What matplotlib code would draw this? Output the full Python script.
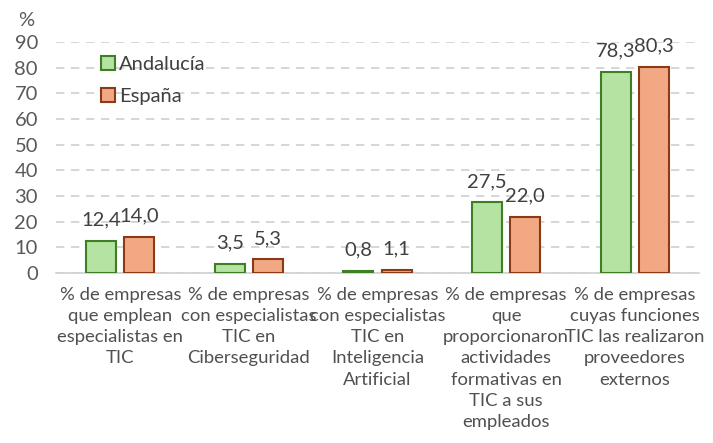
import matplotlib.pyplot as plt
import numpy as np
from matplotlib.patches import Patch

plt.rcParams['font.family'] = ['Lato', 'DejaVu Sans']

categories = [
    "% de empresas\nque emplean\nespecialistas en\nTIC",
    "% de empresas\ncon especialistas\nTIC en\nCiberseguridad",
    "% de empresas\ncon especialistas\nTIC en\nInteligencia\nArtificial",
    "% de empresas\nque\nproporcionaron\nactividades\nformativas en\nTIC a sus\nempleados",
    "% de empresas\ncuyas funciones\nTIC las realizaron\nproveedores\nexternos",
]
andalucia = [12.4, 3.5, 0.8, 27.5, 78.3]
espana = [14.0, 5.3, 1.1, 22.0, 80.3]
series_names = ["Andalucía", "España"]

green_fill, green_edge = '#b5e3a2', '#3f7f24'
orange_fill, orange_edge = '#f2a983', '#8a3a14'
txt = '#404040'

fig = plt.figure(figsize=(7.13, 4.43), dpi=100)
ax = fig.add_axes([56 / 713, 1 - 273 / 443, 643 / 713, 231 / 443])

x = np.arange(len(categories))
w = 0.233
off = 0.148
b1 = ax.bar(x - off, andalucia, w, color=green_fill, edgecolor=green_edge, linewidth=1.5, zorder=3)
b2 = ax.bar(x + off, espana, w, color=orange_fill, edgecolor=orange_edge, linewidth=1.5, zorder=3)

for bars, vals in ((b1, andalucia), (b2, espana)):
    for r, v in zip(bars, vals):
        ax.annotate(f"{v:.1f}".replace('.', ','), (r.get_x() + r.get_width() / 2, v),
                    xytext=(0, 9), textcoords='offset points', ha='center', va='bottom',
                    fontsize=14.5, color=txt)

ax.set_xlim(-0.5, len(categories) - 0.5)
ax.set_ylim(0, 90)
ax.set_yticks(range(0, 91, 10))
ax.yaxis.grid(True, linestyle=(0, (5, 4)), color='#d0d0d0', linewidth=1.2, zorder=0)
ax.set_xticks(x)
ax.set_xticklabels(categories, fontsize=13.3, color='#505050', linespacing=1.4)
ax.tick_params(axis='y', labelsize=14.5, colors='#595959', length=0, pad=13)
ax.tick_params(axis='x', length=0, pad=10)
for s in ('top', 'right', 'left'):
    ax.spines[s].set_visible(False)
ax.spines['bottom'].set_color('#d0d0d0')
ax.spines['bottom'].set_linewidth(1.2)

fig.text(26 / 713, 1 - 20 / 443, '%', fontsize=14.5, color='#595959', ha='center', va='center')

handles = [Patch(facecolor=green_fill, edgecolor=green_edge, linewidth=1.5),
           Patch(facecolor=orange_fill, edgecolor=orange_edge, linewidth=1.5)]
ax.legend(handles, series_names, loc='upper left', bbox_to_anchor=(0.042, 1.02), frameon=False,
          fontsize=14.5, labelcolor=txt, handlelength=0.7, handleheight=0.7,
          handletextpad=0.2, labelspacing=0.75)

plt.savefig('out.png', dpi=100)
